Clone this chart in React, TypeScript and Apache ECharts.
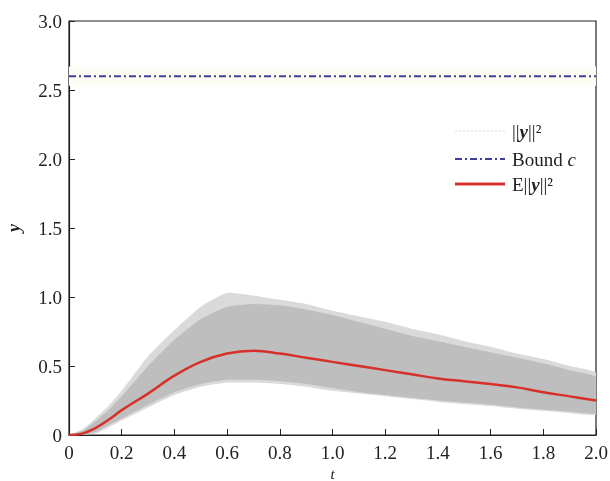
import React, { useEffect, useRef } from "react";
import * as echarts from "echarts";

const T = [0, 0.05, 0.1, 0.15, 0.2, 0.3, 0.4, 0.5, 0.6, 0.7, 0.8, 0.9, 1.0, 1.1, 1.2, 1.3, 1.4, 1.5, 1.6, 1.7, 1.8, 1.9, 2.0];
const MEAN = [0, 0.01, 0.05, 0.11, 0.18, 0.3, 0.43, 0.53, 0.59, 0.61, 0.59, 0.56, 0.53, 0.5, 0.47, 0.44, 0.41, 0.39, 0.37, 0.345, 0.31, 0.28, 0.25];
const INNER_UP = [0, 0.03, 0.1, 0.18, 0.28, 0.5, 0.69, 0.84, 0.93, 0.95, 0.94, 0.91, 0.87, 0.82, 0.77, 0.72, 0.68, 0.64, 0.6, 0.56, 0.52, 0.47, 0.42];
const INNER_LOW = [0, 0.0, 0.02, 0.07, 0.12, 0.22, 0.31, 0.37, 0.4, 0.4, 0.39, 0.37, 0.34, 0.31, 0.29, 0.27, 0.25, 0.235, 0.22, 0.2, 0.185, 0.17, 0.16];
const OUTER_UP = [0, 0.04, 0.12, 0.21, 0.32, 0.57, 0.76, 0.93, 1.03, 1.01, 0.98, 0.95, 0.9, 0.86, 0.82, 0.77, 0.73, 0.68, 0.64, 0.59, 0.55, 0.5, 0.45];
const OUTER_LOW = [0, 0.0, 0.01, 0.055, 0.105, 0.2, 0.29, 0.35, 0.38, 0.38, 0.37, 0.35, 0.32, 0.3, 0.28, 0.26, 0.24, 0.225, 0.21, 0.19, 0.175, 0.16, 0.15];
const BOUND = 2.6;
const LEGEND_LABELS = ["||y||²", "Bound c", "E||y||²"];

const FONT = "Liberation Serif";

export default function App() {
  const ref = useRef<HTMLDivElement>(null);
  useEffect(() => {
    if (!ref.current) return;
    const chart = echarts.init(ref.current, null, { renderer: "svg" });
    const pairs = (arr: number[]) => T.map((t, i) => [t, arr[i]]);
    const fmt = (v: number) => (v === 0 ? "0" : v.toFixed(1));
    const band = (up: number[], low: number[], color: string, name: string) => ({
      name,
      type: "custom",
      silent: true,
      clip: true,
      data: [0],
      renderItem: (params: any, api: any) => {
        const pts: number[][] = [];
        for (let i = 0; i < T.length; i++) pts.push(api.coord([T[i], up[i]]));
        for (let i = T.length - 1; i >= 0; i--) pts.push(api.coord([T[i], low[i]]));
        return { type: "polygon", shape: { points: pts, smooth: 0.15 }, style: { fill: color, stroke: "none" } };
      },
    });
    const rich = {
      n: { fontFamily: FONT, fontSize: 19, fill: "#222", color: "#222" },
      b: { fontFamily: FONT, fontSize: 19, fill: "#222", color: "#222", fontWeight: "bold", fontStyle: "italic" },
      i: { fontFamily: FONT, fontSize: 19, fill: "#222", color: "#222", fontStyle: "italic" },
    };
    const txtStyle = (text: string) => ({ text, rich, fontFamily: FONT, fontSize: 19, fill: "#222", verticalAlign: "middle", align: "left" });
    const lx1 = 455, lx2 = 505, tx = 512;
    const rows = [131, 159, 184];
    chart.setOption({
      animation: false,
      grid: {
        left: 69, right: 14, top: 21, bottom: 46, containLabel: false, outerBoundsMode: "none",
        show: true, borderColor: "#222", borderWidth: 1.2, backgroundColor: "#fff",
      },
      xAxis: {
        type: "value", min: 0, max: 2, interval: 0.2,
        name: "t", nameLocation: "middle", nameGap: 29,
        nameTextStyle: { fontFamily: FONT, fontSize: 15, fontStyle: "italic", color: "#222" },
        axisLine: { lineStyle: { color: "#222", width: 1.2 } },
        axisTick: { inside: true, length: 6, lineStyle: { color: "#222" } },
        axisLabel: { fontFamily: FONT, fontSize: 19, color: "#222", margin: 8, formatter: fmt },
        splitLine: { show: false },
      },
      yAxis: {
        type: "value", min: 0, max: 3, interval: 0.5,
        name: "y", nameLocation: "middle", nameGap: 46,
        nameTextStyle: { fontFamily: FONT, fontSize: 18, fontStyle: "italic", fontWeight: "bold", color: "#222" },
        axisLine: { show: true, lineStyle: { color: "#222", width: 1.2 } },
        axisTick: { show: true, inside: true, length: 6, lineStyle: { color: "#222" } },
        axisLabel: { fontFamily: FONT, fontSize: 19, color: "#222", margin: 7, formatter: fmt },
        splitLine: { show: false },
      },
      graphic: [
        { type: "line", z: 100, shape: { x1: lx1, y1: rows[0], x2: lx2, y2: rows[0] }, style: { stroke: "#dcdcd0", lineWidth: 1, lineDash: [2, 2] } },
        { type: "text", z: 100, x: tx, y: rows[0], style: txtStyle("{n|||}{b|y}{n|||²}") },
        { type: "line", z: 100, shape: { x1: lx1, y1: rows[1], x2: lx2, y2: rows[1] }, style: { stroke: "#40409a", lineWidth: 2, lineDash: [7, 3, 2, 3] } },
        { type: "text", z: 100, x: tx, y: rows[1], style: txtStyle("{n|Bound }{i|c}") },
        { type: "line", z: 100, shape: { x1: lx1, y1: rows[2], x2: lx2, y2: rows[2] }, style: { stroke: "#d7302a", lineWidth: 3 } },
        { type: "text", z: 100, x: tx, y: rows[2], style: txtStyle("{n|E||}{b|y}{n|||²}") },
      ],
      series: [
        band(OUTER_UP, OUTER_LOW, "#dadada", LEGEND_LABELS[0]),
        band(INNER_UP, INNER_LOW, "#bebebe", "inner"),
        {
          name: LEGEND_LABELS[1], type: "line", symbol: "none",
          lineStyle: { color: "#40409a", width: 2, type: [7, 3, 2, 3] },
          data: [[0, BOUND], [2, BOUND]],
          markArea: { silent: true, itemStyle: { color: "#fdfcf5" }, data: [[{ yAxis: 2.53 }, { yAxis: 2.67 }]] },
        },
        { name: LEGEND_LABELS[2], type: "line", symbol: "none", smooth: 0.4, lineStyle: { color: "#d7302a", width: 2.5 }, data: pairs(MEAN) },
      ],
    });
    return () => chart.dispose();
  }, []);
  return <div ref={ref} style={{ position: "fixed", left: 0, top: 0, width: 610, height: 481 }} />;
}
